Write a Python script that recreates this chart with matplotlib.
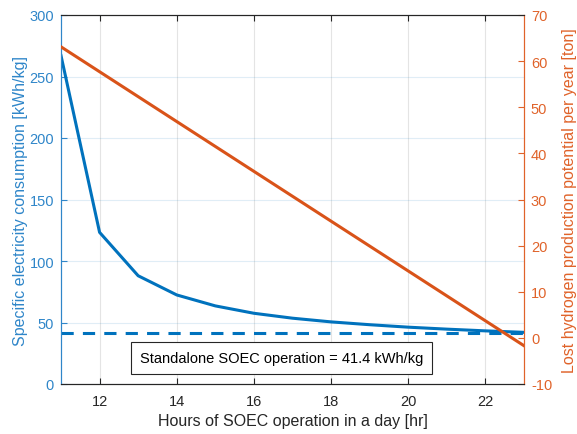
import matplotlib
matplotlib.use("Agg")
import matplotlib.pyplot as plt

plt.rcParams['font.family'] = ['Liberation Sans', 'DejaVu Sans']
plt.rcParams['axes.unicode_minus'] = False

hours = [11, 12, 13, 14, 15, 16, 17, 18, 19, 20, 21, 22, 23]
specific_consumption = [267, 123.3, 88, 72.4, 63.5, 57.5, 53.5, 50.5, 48.2, 46.2, 44.6, 43.2, 42.0]
lost_hydrogen = [63.1, 57.7, 52.3, 46.9, 41.5, 36.1, 30.7, 25.3, 19.9, 14.5, 9.1, 3.7, -1.7]
standalone_value = 41.4

blue = '#0072BD'
orange = '#D95319'
blue_txt = '#2F86C9'
orange_txt = '#E0632A'

fig = plt.figure(figsize=(5.77, 4.35), dpi=100)
ax = fig.add_axes([61/577, 1 - 385/435, (524-61)/577, (385-16)/435])
ax2 = ax.twinx()

ax.plot(hours, specific_consumption, color=blue, lw=2.2, zorder=3)
ax.axhline(standalone_value, color=blue, lw=2.2, ls=(0, (4, 3)), zorder=3)
ax2.plot(hours, lost_hydrogen, color=orange, lw=2.2, zorder=3)

ax.set_xlim(11, 23)
ax.set_ylim(0, 300)
ax2.set_ylim(-10, 70)
ax.set_xticks([12, 14, 16, 18, 20, 22])
ax.set_yticks([0, 50, 100, 150, 200, 250, 300])
ax2.set_yticks(range(-10, 71, 10))

ax.grid(True, axis='x', color='#262626', alpha=0.12, lw=0.8)
ax.grid(True, axis='y', color=blue, alpha=0.12, lw=0.8)
ax.set_axisbelow(True)

tfs = 10.5
lfs = 11.5
ax.tick_params(axis='x', direction='in', length=4, colors='#262626', labelsize=tfs,
               top=True, labeltop=False, pad=7)
ax.tick_params(axis='y', direction='in', length=4, colors=blue_txt, labelsize=tfs, pad=5)
ax2.tick_params(axis='y', direction='in', length=4, colors=orange_txt, labelsize=tfs, pad=5)

for a in (ax, ax2):
    a.spines['top'].set_color('#262626')
    a.spines['bottom'].set_color('#262626')
    a.spines['left'].set_color(blue_txt)
    a.spines['right'].set_color(orange_txt)
    for s in a.spines.values():
        s.set_linewidth(0.8)

ax.set_xlabel('Hours of SOEC operation in a day [hr]', fontsize=lfs, color='#262626', labelpad=4)
ax.set_ylabel('Specific electricity consumption [kWh/kg]', fontsize=lfs, color=blue_txt, labelpad=1)
ax2.set_ylabel('Lost hydrogen production potential per year [ton]', fontsize=lfs, color=orange_txt, labelpad=7)

ax.text(0.5 * (132 + 431) / 577, 1 - 359 / 435, 'Standalone SOEC operation = 41.4 kWh/kg',
        transform=fig.transFigure, ha='center', va='center', fontsize=tfs, color='black',
        bbox=dict(boxstyle='square,pad=0.6', fc='white', ec='#262626', lw=0.8), zorder=5)

fig.savefig('out.png', dpi=100)
